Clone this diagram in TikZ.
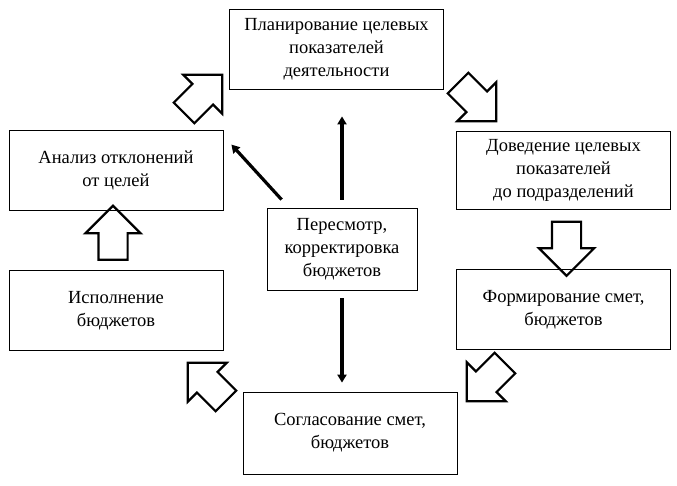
\documentclass[tikz,border=0pt]{standalone}
\usepackage{fontspec}
\setmainfont{Liberation Serif}
\usepackage{tikz}
\usetikzlibrary{shapes, arrows.meta, positioning, calc}

\begin{document}
\begin{tikzpicture}[x=1pt, y=-1pt,
  stage/.style={draw, line width=0.8pt, minimum width=214pt, minimum height=80pt, align=center, font=\fontsize{18.5}{23}\selectfont, inner sep=2pt},
  blockarrow/.style={draw, single arrow, line width=2.2pt, minimum height=54pt, inner xsep=0pt, inner ysep=13.5pt, single arrow head extend=13pt, single arrow head indent=0pt},
  link/.style={line width=3.2pt, -{Triangle[length=8pt, width=9pt]}}]
  \useasboundingbox (0,0) rectangle (677,485);

  \node[stage] (plan) at (336.5,49) {Планирование целевых\\показателей\\деятельности};
  \node[stage, minimum height=78pt] (bring) at (563.5,170) {Доведение целевых\\показателей\\до подразделений};
  \node[stage] (form) at (563.5,309.5) {Формирование смет,\\бюджетов};
  \node[stage, minimum height=82pt] (agree) at (350,433) {Согласование смет,\\бюджетов};
  \node[stage] (exec) at (116,310.5) {Исполнение\\бюджетов};
  \node[stage] (anal) at (116,170) {Анализ отклонений\\от целей};
  \node[stage, minimum width=150pt, minimum height=82pt] (revise) at (342,249) {Пересмотр,\\корректировка\\бюджетов};

  \node[blockarrow, rotate=45] (a1) at (198,99) {};
  \node[blockarrow, rotate=-45] (a2) at (472,97) {};
  \node[blockarrow, rotate=-90] (a3) at (566.5,241.5) {};
  \node[blockarrow, rotate=-135] (a4) at (491,377) {};
  \node[blockarrow, rotate=135] (a5) at (212,387) {};
  \node[blockarrow, rotate=90] (a6) at (113,240) {};

  \draw[link, shorten <=8pt, shorten >=27pt] (revise.north) -- (revise.north |- plan.south);
  \draw[link, shorten <=8pt, shorten >=9pt] (revise.south) -- (revise.south |- agree.north);
  \draw[link] ([shift={(15,-8)}]revise.north west) -- ([shift={(8,15)}]anal.north east);
\end{tikzpicture}
\end{document}
